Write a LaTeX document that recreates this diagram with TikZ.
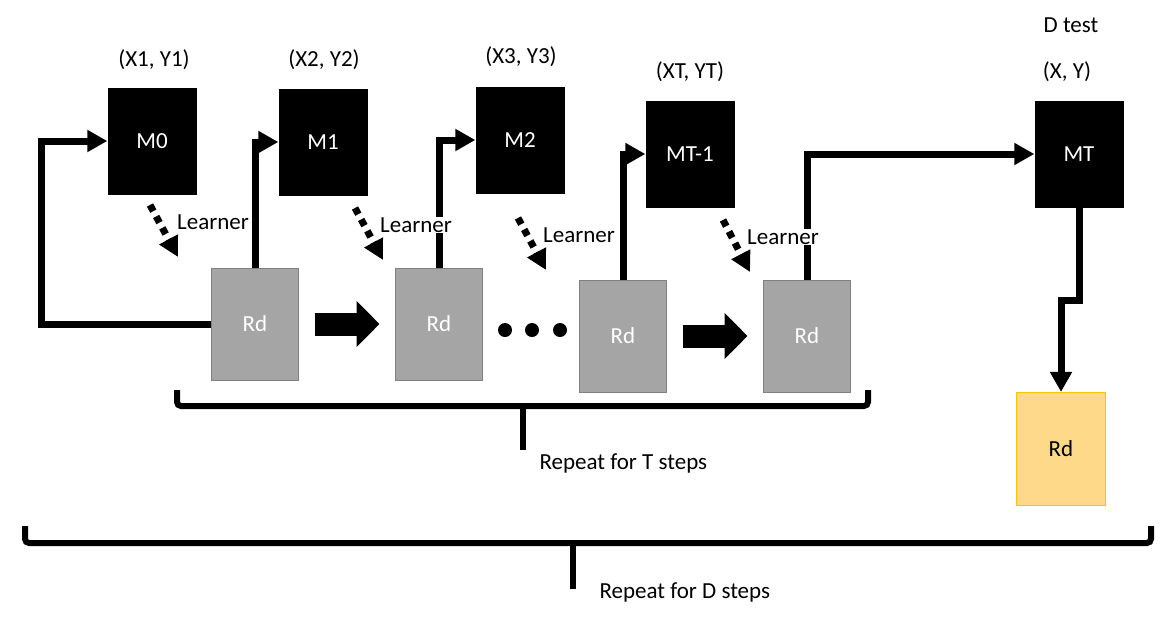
\documentclass[tikz,border=0pt]{standalone}
\usepackage{fontspec}
\setmainfont{Carlito}
\usetikzlibrary{arrows.meta}
\definecolor{rdgray}{HTML}{A5A5A5}
\definecolor{rdedge}{HTML}{7F7F7F}
\definecolor{testfill}{HTML}{FFD98A}
\definecolor{testedge}{HTML}{FFC000}
\tikzset{
  model/.style={rectangle,fill=black,text=white,minimum width=89pt,minimum height=107pt,inner sep=0pt},
  rdbox/.style={rectangle,fill=rdgray,draw=rdedge,line width=1pt,text=white,minimum width=87pt,minimum height=112pt,inner sep=0pt},
  testbox/.style={rectangle,fill=testfill,draw=testedge,line width=1.2pt,text=black,minimum width=89pt,minimum height=113pt,inner sep=0pt},
  flow/.style={line width=7pt,-{Triangle[length=20pt,width=21pt]}},
  bigarrow/.style={line width=23pt,-{Triangle[length=23pt,width=45pt]},shorten <=15.5pt,shorten >=15.5pt},
  learn/.style={line width=7pt,dash pattern=on 7pt off 6pt,-{Triangle[length=20pt,width=20pt]}},
  tag/.style={anchor=west,fill=white,inner sep=1pt},
  brace/.style={line width=6pt,rounded corners=4pt},
  dot/.style={circle,fill=black,inner sep=0pt,minimum size=14pt}
}
\begin{document}
\begin{tikzpicture}[x=1pt,y=-1pt,font=\fontsize{23}{27}\selectfont]
\useasboundingbox (0,0) rectangle (1168,622);
\node (M0) [model] at (152,141) {M0};
\node (M1) [model] at (323,142) {M1};
\node (M2) [model] at (520,140) {M2};
\node (MT1) [model] at (690,154) {MT-1};
\node (MT) [model] at (1079,154) {MT};
\node (P1) at (154,60) {(X1, Y1)};
\node (P2) at (324,60) {(X2, Y2)};
\node (P3) at (521,57) {(X3, Y3)};
\node (PT) at (690,72) {(XT, YT)};
\node (PX) at (1067,72) {(X, Y)};
\node (Dtest) at (1071,25) {D test};
\node (R1) [rdbox] at (255,324) {Rd};
\node (R2) [rdbox] at (439,324) {Rd};
\node (R3) [rdbox] at (623,336) {Rd};
\node (R4) [rdbox] at (807,336) {Rd};
\node (R5) [testbox] at (1061,449) {Rd};
\foreach \x [count=\i] in {505,532,560}
  \node (dot\i) [dot] at (\x,330) {};
\draw [flow] (R1.west) -- ++(-170,0) |- (M0.west);
\draw [flow] (R1.north) |- (M1.west);
\draw [flow] (R2.north) |- (M2.west);
\draw [flow] (R3.north) |- (MT1.west);
\draw [flow] (R4.north) |- (MT.west);
\draw [flow] (MT.south) -- ++(0,93) -| (R5.north);
\draw [bigarrow] (R1.east) -- (R2.west);
\draw [bigarrow] (R3.east) -- (R4.west);
\coordinate (a0) at (150,205);
\coordinate (a1) at (355,208);
\coordinate (a2) at (518,218);
\coordinate (a3) at (723,220);
\draw [learn] (a0) -- ++(28,52);
\draw [learn] (a1) -- ++(28,52);
\draw [learn] (a2) -- ++(28,52);
\draw [learn] (a3) -- ++(27,52);
\node (L0) [tag] at (176,222) {Learner};
\node (L1) [tag] at (379,225) {Learner};
\node (L2) [tag] at (542,235) {Learner};
\node (L3) [tag] at (746,237) {Learner};
\draw [brace] (177,390) -- (177,406) -- (868,406) -- (868,390);
\draw [brace] (523,406) -- (523,450) coordinate (tstem);
\node (repT) [anchor=west] at (536,463) {Repeat for T steps};
\draw [brace] (25,526) -- (25,543) -- (1151,543) -- (1151,526);
\draw [brace] (573,543) -- (573,589) coordinate (dstem);
\node (repD) [anchor=west] at (596,592) {Repeat for D steps};
\end{tikzpicture}
\end{document}
